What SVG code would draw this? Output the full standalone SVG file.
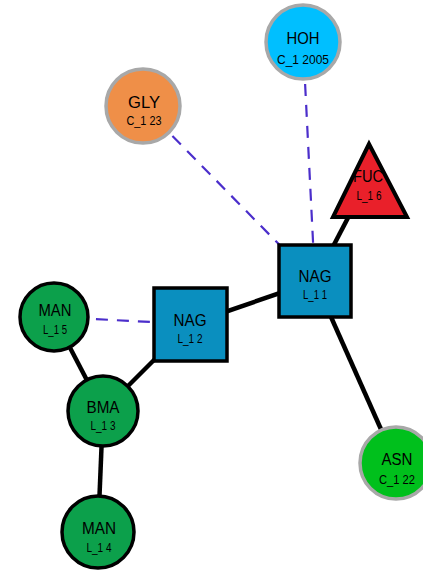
<svg xmlns="http://www.w3.org/2000/svg" width="423" height="570" viewBox="0 0 423 570">
<style>
.bg{fill:#ffffff}
.solid{stroke:#000;stroke-width:4.5;fill:none}
.dash{stroke:#4b2ecb;stroke-width:2.2;stroke-dasharray:12 9;fill:none}
.gray{stroke:#a8a8a8;stroke-width:3.5}
.blk{stroke:#000;stroke-width:3.5}
.t1{font-family:"Liberation Sans",Arial,sans-serif;font-size:16px;fill:#000;text-anchor:middle}
.t2{font-family:"Liberation Sans",Arial,sans-serif;font-size:13px;fill:#000;text-anchor:middle}
</style>
<rect class="bg" x="0" y="0" width="423" height="570"/>
<g id="connectors">
<line class="dash" x1="143" y1="106" x2="315" y2="281"/>
<line class="dash" x1="303" y1="42" x2="315" y2="281"/>
<line class="dash" x1="54" y1="317" x2="190" y2="324"/>
<line class="solid" x1="315" y1="281" x2="362" y2="191"/>
<line class="solid" x1="315" y1="281" x2="396" y2="463"/>
<line class="solid" x1="315" y1="281" x2="190" y2="324"/>
<line class="solid" x1="190" y1="324" x2="103" y2="411"/>
<line class="solid" x1="54" y1="317" x2="103" y2="411"/>
<line class="solid" x1="103" y1="411" x2="98" y2="532"/>
</g>
<g id="HOH">
<circle class="gray" cx="303" cy="42" r="37" fill="#00bfff"/>
<text class="t1" x="303" y="44" textLength="33" lengthAdjust="spacingAndGlyphs">HOH</text>
<text class="t2" x="303" y="64" textLength="52" lengthAdjust="spacingAndGlyphs">C_1 2005</text>
</g>
<g id="GLY">
<circle class="gray" cx="143" cy="106" r="37" fill="#ef8f48"/>
<text class="t1" x="144" y="108" textLength="32" lengthAdjust="spacingAndGlyphs">GLY</text>
<text class="t2" x="144" y="125" textLength="35" lengthAdjust="spacingAndGlyphs">C_1 23</text>
</g>
<g id="FUC">
<polygon points="369,144 333,217 407,217" fill="#e9202a"/>
<text class="t1" x="368" y="182" textLength="30" lengthAdjust="spacingAndGlyphs">FUC</text>
<text class="t2" x="369" y="200" textLength="25" lengthAdjust="spacingAndGlyphs">L_1 6</text>
<polygon points="369,144 333,217 407,217" fill="none" stroke="#000" stroke-width="4" stroke-linejoin="miter"/>
</g>
<g id="NAG1">
<rect class="blk" x="279" y="245" width="72" height="72" fill="#0a8fbf"/>
<text class="t1" x="315" y="282" textLength="33" lengthAdjust="spacingAndGlyphs">NAG</text>
<text class="t2" x="315" y="299" textLength="24" lengthAdjust="spacingAndGlyphs">L_1 1</text>
</g>
<g id="NAG2">
<rect class="blk" x="154" y="288" width="73" height="73" fill="#0a8fbf"/>
<text class="t1" x="190" y="326" textLength="33" lengthAdjust="spacingAndGlyphs">NAG</text>
<text class="t2" x="190" y="343" textLength="25" lengthAdjust="spacingAndGlyphs">L_1 2</text>
</g>
<g id="MAN5">
<circle class="blk" cx="54" cy="317" r="34" fill="#0ca04b"/>
<text class="t1" x="55" y="316" textLength="33" lengthAdjust="spacingAndGlyphs">MAN</text>
<text class="t2" x="55" y="334" textLength="24" lengthAdjust="spacingAndGlyphs">L_1 5</text>
</g>
<g id="BMA">
<circle class="blk" cx="103" cy="411" r="35" fill="#0ca04b"/>
<text class="t1" x="103" y="413" textLength="33" lengthAdjust="spacingAndGlyphs">BMA</text>
<text class="t2" x="103" y="430" textLength="25" lengthAdjust="spacingAndGlyphs">L_1 3</text>
</g>
<g id="MAN4">
<circle class="blk" cx="98" cy="532" r="36" fill="#0ca04b"/>
<text class="t1" x="99" y="534" textLength="34" lengthAdjust="spacingAndGlyphs">MAN</text>
<text class="t2" x="99" y="552" textLength="25" lengthAdjust="spacingAndGlyphs">L_1 4</text>
</g>
<g id="ASN">
<circle class="gray" cx="396" cy="463" r="36" fill="#00c01c"/>
<text class="t1" x="397" y="465" textLength="31" lengthAdjust="spacingAndGlyphs">ASN</text>
<text class="t2" x="397" y="484" textLength="36" lengthAdjust="spacingAndGlyphs">C_1 22</text>
</g>
</svg>
